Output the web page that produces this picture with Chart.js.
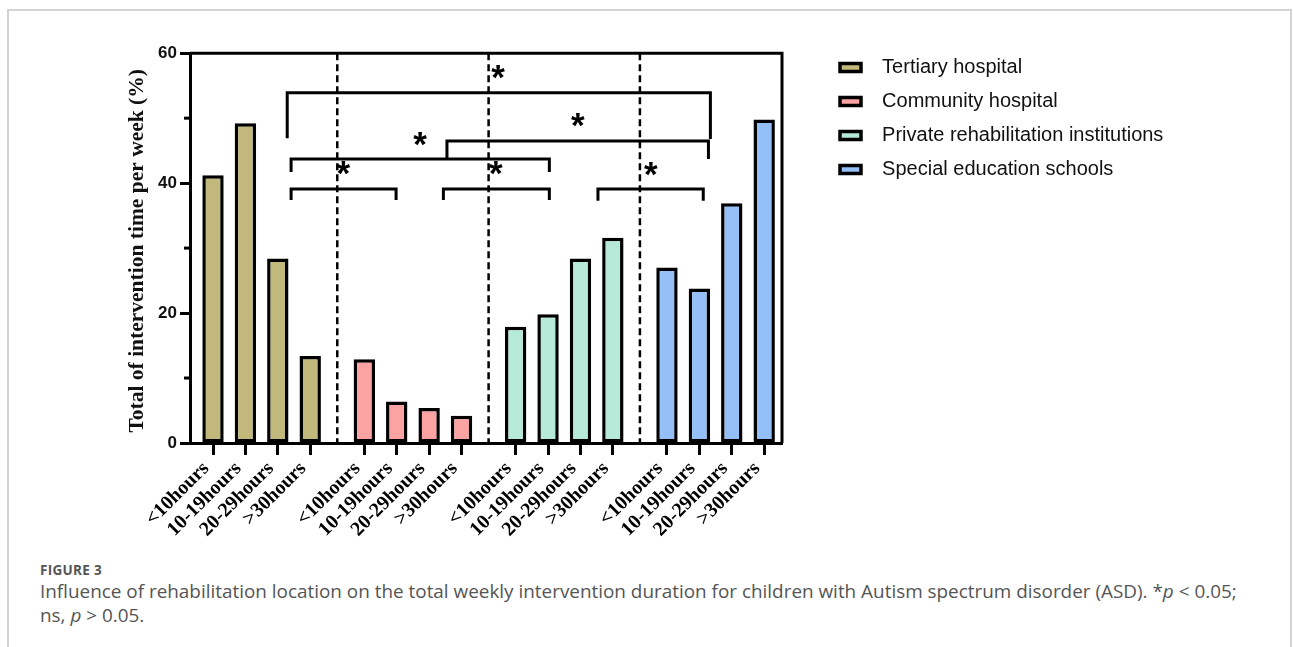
<!DOCTYPE html>
<html>
<head>
<meta charset="utf-8">
<script src="https://cdn.jsdelivr.net/npm/chart.js@4.4.1/dist/chart.umd.min.js"></script>
<style>
    html, body { margin: 0; padding: 0; background: #fff; }
    body { width: 1293px; height: 647px; overflow: hidden; position: relative; }
    #frame { position: absolute; left: 7px; top: 9px; width: 1285px; height: 700px; border: 2px solid #d4d4d4; box-sizing: border-box; }
    #wrap { position: absolute; left: 100px; top: 40px; width: 1086px; height: 510px; }
    #figlabel { position: absolute; left: 40px; top: 561px; font-family: "Open Sans", Lato, sans-serif; font-size: 13.5px; letter-spacing: 0.3px; font-weight: 700; color: #555; }
    #caption { position: absolute; left: 40px; top: 579px; font-family: "Open Sans", Lato, sans-serif; font-size: 18.9px; line-height: 24px; color: #555; white-space: nowrap; }
</style>
</head>
<body>
<div id="frame"></div>
<div id="wrap"><canvas id="durationChart"></canvas></div>
<div id="figlabel">FIGURE 3</div>
<div id="caption">Influence of rehabilitation location on the total weekly intervention duration for children with Autism spectrum disorder (ASD). *<i>p</i> &lt; 0.05;<br>ns, <i>p</i> &gt; 0.05.</div>
<script>
(function () {
    // data (% of children per weekly duration band)
    var locations = ['Tertiary hospital', 'Community hospital', 'Private rehabilitation institutions', 'Special education schools'];
    var hourBands = ['<10hours', '10-19hours', '20-29hours', '>30hours'];
    var tertiary = [41.2, 49.2, 28.4, 13.4];
    var community = [12.9, 6.4, 5.4, 4.2];
    var privateInst = [17.9, 19.8, 28.4, 31.6];
    var specialEdu = [27.0, 23.8, 36.9, 49.8];
    var yTicks = [0, 20, 40, 60];
    var yMinorTicks = [10, 30, 50];

    // significance brackets: [from slot, to slot, top y, left leg end y, right leg end y]
    var sigBrackets = [
        [2.29, 15.35, 53.9, 46.9, 46.8],
        [7.22, 15.29, 46.5, 43.7, 43.7],
        [2.41, 10.38, 43.7, 41.7, 41.7],
        [2.41, 5.65, 39.1, 37.4, 37.4],
        [7.11, 10.38, 39.1, 37.4, 37.4],
        [11.88, 15.13, 39.1, 37.3, 37.3]
    ];
    var sigStars = [[8.80, 56.4], [11.26, 49.0], [6.39, 46.1], [4.02, 41.5], [8.73, 41.5], [13.51, 41.4]];

    var colors = ['#c3b87c', '#fba2a2', '#b6e9d7', '#94bff7'];
    var GROUP_GAP = 0.67;
    var SANS = 'Arial, "Liberation Sans", sans-serif';
    var SERIF = '"Times New Roman", "Liberation Serif", serif';

    var seriesValues = [tertiary, community, privateInst, specialEdu];

    function slot(g, i) { return g * (hourBands.length + GROUP_GAP) + i; }

    var tickPositions = [];
    var tickLabels = [];
    seriesValues.forEach(function (vals, g) {
        vals.forEach(function (v, i) {
            tickPositions.push(slot(g, i));
            tickLabels.push(hourBands[i]);
        });
    });

    var datasets = seriesValues.map(function (vals, g) {
        return {
            label: locations[g],
            data: vals.map(function (v, i) { return { x: slot(g, i), y: v }; }),
            backgroundColor: colors[g],
            borderColor: '#000',
            borderWidth: 3.5,
            borderSkipped: false,
            grouped: false,
            categoryPercentage: 1,
            barPercentage: 0.66
        };
    });

    var decorations = {
        id: 'decorations',
        beforeLayout: function (chart) {
            // fixed legend width so that the labels are not clipped
            var lg = chart.legend;
            if (lg && !lg._fixedWidth) {
                var origFit = lg.fit;
                lg.fit = function () {
                    origFit.call(this);
                    this.width = 360;
                };
                lg._fixedWidth = true;
            }
        },
        afterDatasetsDraw: function (chart) {
            var ctx = chart.ctx;
            var area = chart.chartArea;
            var xs = chart.scales.x;
            var ys = chart.scales.y;
            ctx.save();
            ctx.strokeStyle = '#000';
            ctx.fillStyle = '#000';

            // top and right edges of the frame
            ctx.lineWidth = 3;
            ctx.beginPath();
            ctx.moveTo(area.left, area.top);
            ctx.lineTo(area.right, area.top);
            ctx.lineTo(area.right, area.bottom);
            ctx.stroke();

            // minor y ticks
            yMinorTicks.forEach(function (v) {
                var py = ys.getPixelForValue(v);
                ctx.beginPath();
                ctx.moveTo(area.left - 6, py);
                ctx.lineTo(area.left, py);
                ctx.stroke();
            });

            // dashed separators between locations
            ctx.lineWidth = 2.5;
            ctx.setLineDash([7, 4]);
            for (var g = 0; g < locations.length - 1; g++) {
                var px = xs.getPixelForValue((slot(g, hourBands.length - 1) + slot(g + 1, 0)) / 2);
                ctx.beginPath();
                ctx.moveTo(px, area.top);
                ctx.lineTo(px, area.bottom);
                ctx.stroke();
            }
            ctx.setLineDash([]);

            // brackets
            ctx.lineWidth = 3;
            ctx.lineJoin = 'miter';
            sigBrackets.forEach(function (b) {
                var x1 = xs.getPixelForValue(b[0]);
                var x2 = xs.getPixelForValue(b[1]);
                ctx.beginPath();
                ctx.moveTo(x1, ys.getPixelForValue(b[3]));
                ctx.lineTo(x1, ys.getPixelForValue(b[2]));
                ctx.lineTo(x2, ys.getPixelForValue(b[2]));
                ctx.lineTo(x2, ys.getPixelForValue(b[4]));
                ctx.stroke();
            });

            // asterisks
            ctx.font = 'bold 35px ' + SANS;
            ctx.textAlign = 'center';
            ctx.textBaseline = 'alphabetic';
            sigStars.forEach(function (s) {
                ctx.fillText('*', xs.getPixelForValue(s[0]), ys.getPixelForValue(s[1]) + 12);
            });
            ctx.restore();
        }
    };

    new Chart(document.getElementById('durationChart'), {
        type: 'bar',
        data: { datasets: datasets },
        options: {
            responsive: true,
            maintainAspectRatio: false,
            animation: false,
            layout: { padding: 0 },
            scales: {
                x: {
                    type: 'linear',
                    offset: false,
                    min: -0.71,
                    max: slot(3, 3) + 0.55,
                    afterBuildTicks: function (scale) {
                        scale.ticks = tickPositions.map(function (p) { return { value: p }; });
                    },
                    afterFit: function (scale) { scale.height = 107; },
                    ticks: {
                        autoSkip: false,
                        maxRotation: 45,
                        minRotation: 45,
                        padding: 2,
                        labelOffset: -7,
                        color: '#000',
                        font: { family: SERIF, size: 20, weight: 'bold' },
                        callback: function (value, index) { return tickLabels[index]; }
                    },
                    grid: { display: true, offset: false, drawOnChartArea: false, drawTicks: true, tickLength: 12, tickWidth: 3, tickColor: '#000' },
                    border: { display: true, width: 3, color: '#000' }
                },
                y: {
                    min: 0,
                    max: 60,
                    afterBuildTicks: function (scale) {
                        scale.ticks = yTicks.map(function (v) { return { value: v }; });
                    },
                    afterFit: function (scale) { scale.width = 90; },
                    ticks: { padding: 3, color: '#111', font: { family: SANS, size: 17, weight: 'bold' } },
                    grid: { display: true, drawOnChartArea: false, drawTicks: true, tickLength: 10, tickWidth: 3, tickColor: '#000' },
                    border: { display: true, width: 3, color: '#000' },
                    title: {
                        display: true,
                        text: 'Total of intervention time per week (%) ',
                        color: '#111',
                        padding: { top: 25, bottom: 0 },
                        font: { family: SERIF, size: 21.5, weight: 'bold' }
                    }
                },
                legendGap: {
                    type: 'linear',
                    position: 'right',
                    display: true,
                    afterFit: function (scale) { scale.width = 44; },
                    ticks: { display: false },
                    grid: { display: false },
                    border: { display: false }
                }
            },
            plugins: {
                legend: {
                    position: 'right',
                    align: 'start',
                    title: { display: true, text: '', padding: 0, font: { size: 3 } },
                    labels: {
                        boxWidth: 21,
                        boxHeight: 8,
                        padding: 14,
                        color: '#111',
                        font: { family: SANS, size: 20 },
                        generateLabels: function (chart) {
                            var items = Chart.defaults.plugins.legend.labels.generateLabels(chart);
                            items.forEach(function (it) { it.text = '  ' + it.text; });
                            return items;
                        }
                    }
                },
                tooltip: { enabled: false }
            }
        },
        plugins: [decorations]
    });
})();
</script>
</body>
</html>
